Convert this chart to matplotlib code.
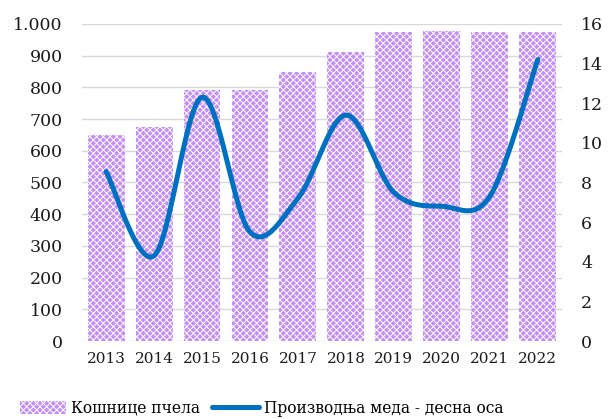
import numpy as np
import matplotlib
matplotlib.use("Agg")
import matplotlib.pyplot as plt
from matplotlib.ticker import FuncFormatter
from matplotlib.lines import Line2D
from matplotlib.patches import Patch

years = ["2013", "2014", "2015", "2016", "2017", "2018", "2019", "2020", "2021", "2022"]
hives = [650, 675, 792, 790, 849, 912, 975, 978, 975, 975]
honey = [8.55, 4.3, 12.3, 5.5, 7.2, 11.4, 7.5, 6.8, 7.3, 14.2]

BAR = "#C48EF5"
LINE = "#0070C0"
GRID = "#D9D9D9"

plt.rcParams["font.family"] = ["DejaVu Serif"]
plt.rcParams["hatch.color"] = "white"
plt.rcParams["hatch.linewidth"] = 0.7


def smooth(xs, ys, n=30):
    # cubic Bezier segments with Catmull-Rom style handles
    xs = np.asarray(xs, float)
    ys = np.asarray(ys, float)
    px, py = [], []
    for i in range(len(xs) - 1):
        i0 = max(i - 1, 0)
        i3 = min(i + 2, len(xs) - 1)
        p0 = np.array([xs[i], ys[i]])
        p3 = np.array([xs[i + 1], ys[i + 1]])
        c1 = p0 + (p3 - np.array([xs[i0], ys[i0]])) / 6
        c2 = p3 - (np.array([xs[i3], ys[i3]]) - p0) / 6
        t = np.linspace(0, 1, n)[:, None]
        pts = ((1 - t) ** 3 * p0 + 3 * (1 - t) ** 2 * t * c1
               + 3 * (1 - t) * t ** 2 * c2 + t ** 3 * p3)
        px.extend(pts[:, 0])
        py.extend(pts[:, 1])
    return px, py


fig = plt.figure(figsize=(6.08, 4.19), dpi=100)
ax = fig.add_axes((0.135, 0.186, 0.789, 0.757))
ax2 = ax.twinx()

x = np.arange(len(years))
ax.bar(x, hives, width=0.77, color=BAR, hatch="xxxxx", edgecolor="white",
       linewidth=0, zorder=2)

ax.set_xlim(-0.5, len(years) - 0.5)
ax.set_ylim(0, 1000)
ax.set_yticks(np.arange(0, 1001, 100))
ax.yaxis.set_major_formatter(FuncFormatter(lambda v, _: f"{int(v):,}".replace(",", ".")))
ax.set_xticks(x)
ax.set_xticklabels(years)
ax.grid(axis="y", color=GRID, linewidth=1, zorder=0)
ax.set_axisbelow(True)

sx, sy = smooth(x, honey)
ax2.plot(sx, sy, color=LINE, linewidth=3.6, solid_capstyle="round", zorder=3)
ax2.set_ylim(0, 16)
ax2.set_yticks(np.arange(0, 17, 2))

for a in (ax, ax2):
    for s in a.spines.values():
        s.set_visible(False)
    a.tick_params(length=0, colors="#1a1a1a")
ax.tick_params(axis="y", labelsize=12.5, pad=14)
ax.tick_params(axis="x", labelsize=11, pad=8)
ax2.tick_params(axis="y", labelsize=12.5, pad=14)

handles = [
    Patch(facecolor=BAR, hatch="xxxxx", edgecolor="white", linewidth=0),
    Line2D([0], [0], color=LINE, linewidth=3.6, solid_capstyle="round"),
]
fig.legend(handles, ["Кошнице пчела", "Производња меда - десна оса"],
           loc="center", bbox_to_anchor=(0.43, 0.026), ncol=2, frameon=False,
           fontsize=11.2, handlelength=3.0, handleheight=0.9, handletextpad=0.3,
           columnspacing=0.8)

fig.savefig("out.png", dpi=100)
